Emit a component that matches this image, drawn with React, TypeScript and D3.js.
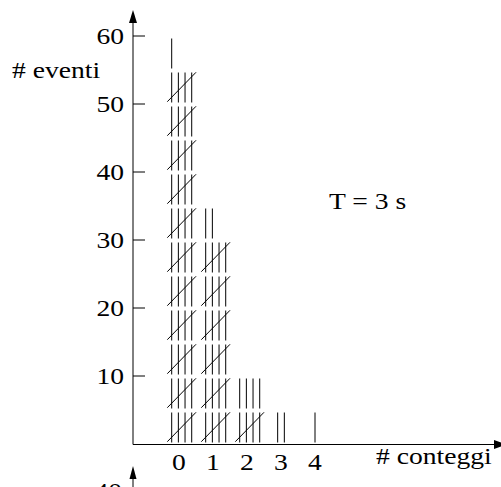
import React from "react";
import * as d3 from "d3";

const categories = [0, 1, 2, 3, 4];
const counts = [56, 32, 9, 2, 1];
const yTicks = [10, 20, 30, 40, 50, 60];
const xLabels = ["0", "1", "2", "3", "4"];
const yTitle = "# eventi";
const xTitle = "# conteggi";
const note = "T = 3 s";

const W = 501;
const H = 487;
const FONT = "Liberation Serif, Times New Roman, serif";
const FS = 23;
const SX = 1.2;

export default function App() {
  const y = d3.scaleLinear().domain([0, 60]).range([444, 36]);
  const x = d3.scaleLinear().domain([0, 4]).range([179, 315]);
  const axisX = 133;
  const axisY = 444.5;
  const gap = 6.67;

  const marks: React.ReactNode[] = [];
  categories.forEach((c, ci) => {
    const n = counts[ci];
    const full = Math.floor(n / 5);
    const rest = n % 5;
    const rows = full + (rest > 0 ? 1 : 0);
    for (let r = 0; r < rows; r++) {
      const isFull = r < full;
      const nLines = isFull ? 4 : rest;
      const bottom = y(r * 5);
      const top = y(r * 5 + 5);
      const start = n < 5 ? x(c) - ((nLines - 1) * gap) / 2 : x(c) - 7.3;
      for (let l = 0; l < nLines; l++) {
        const lx = start + l * gap;
        marks.push(
          <line key={`v${ci}-${r}-${l}`} x1={lx} x2={lx} y1={top + 2.5} y2={bottom - 1.5}
            stroke="#000" strokeWidth={1} />
        );
      }
      if (isFull) {
        marks.push(
          <line key={`d${ci}-${r}`} x1={start - 4.4} y1={bottom - 2.3}
            x2={start + 3 * gap + 4.3} y2={top + 2.3} stroke="#000" strokeWidth={1} />
        );
      }
    }
  });

  const txt = (s: string, tx: number, ty: number, anchor: string = "start", key?: string) => (
    <text key={key} transform={`translate(${tx},${ty}) scale(${SX},1)`} textAnchor={anchor}
      fontFamily={FONT} fontSize={FS} fill="#000">{s}</text>
  );

  return (
    <svg width={W} height={H} style={{ position: "absolute", left: 0, top: 0, background: "#fff" }}>
      <rect x={0} y={0} width={W} height={H} fill="#fff" />
      {/* y axis */}
      <line x1={axisX} x2={axisX} y1={22} y2={axisY} stroke="#000" strokeWidth={1} />
      <path d={`M${axisX},10 L${axisX + 4},23 L${axisX - 4},23 Z`} fill="#000" />
      {yTicks.map((t) => (
        <g key={`t${t}`}>
          <line x1={axisX} x2={axisX + 12} y1={y(t)} y2={y(t)} stroke="#000" strokeWidth={1} />
          {txt(String(t), 124, y(t) + 8, "end")}
        </g>
      ))}
      {/* x axis */}
      <line x1={axisX} x2={495} y1={axisY} y2={axisY} stroke="#000" strokeWidth={1} />
      <path d={`M507,${axisY} L494,${axisY - 4.5} L494,${axisY + 4.5} Z`} fill="#000" />
      {categories.map((c, i) => (
        <g key={`xl${c}`}>{txt(xLabels[i], x(c), 470, "middle")}</g>
      ))}
      {marks}
      {txt(yTitle, 12, 78)}
      {txt(xTitle, 376, 464)}
      {txt(note, 329, 209)}
      {/* partial next figure */}
      <line x1={axisX} x2={axisX} y1={478} y2={H} stroke="#000" strokeWidth={1} />
      <path d={`M${axisX},466 L${axisX + 3.5},479 L${axisX - 3.5},479 Z`} fill="#000" />
      {txt("40", 122, 499, "end")}
    </svg>
  );
}
